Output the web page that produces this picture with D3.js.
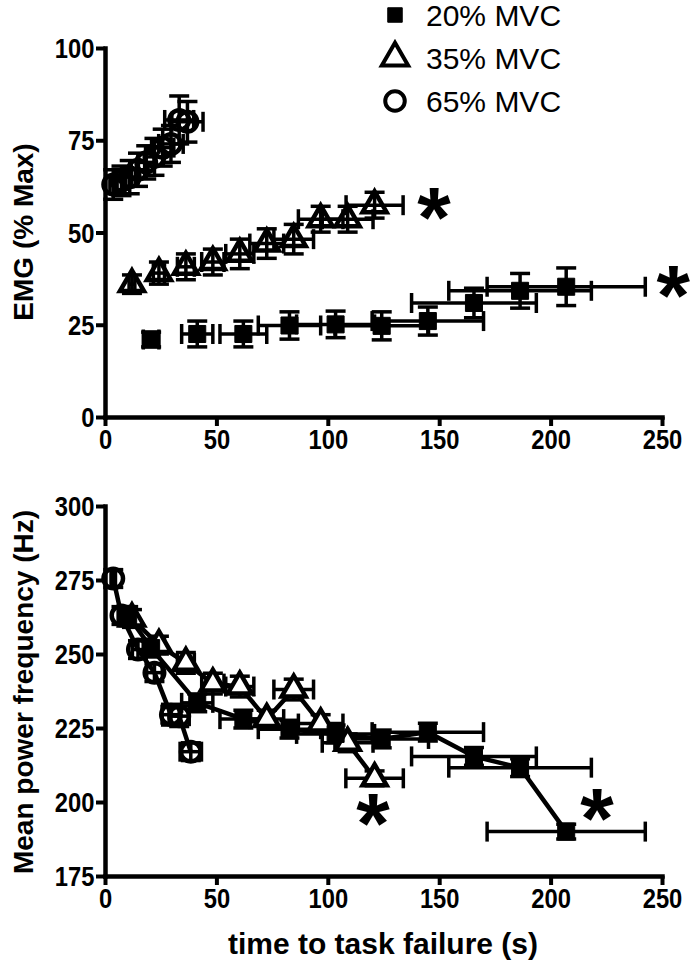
<!DOCTYPE html>
<html>
<head>
<meta charset="utf-8">
<script src="https://cdn.jsdelivr.net/npm/d3@7"></script>
<style>
  body { margin: 0; background: #fff; }
  text { font-family: "Liberation Sans", Arial, sans-serif; }
</style>
</head>
<body>
<div id="chart"></div>
<script>
// ---- data ----
var xTicks = [0, 50, 100, 150, 200, 250];
var emgTicks = [0, 25, 50, 75, 100];
var mpfTicks = [175, 200, 225, 250, 275, 300];
var seriesNames = ["20% MVC", "35% MVC", "65% MVC"];

// top panel: EMG (% Max)
var time20 = [20.7, 41.4, 62.1, 82.8, 103.5, 124.2, 144.9, 165.6, 186.3, 207];
var time20Err = [3.5, 7, 10.5, 14, 17.5, 21, 25, 28, 32, 35.5];
var emg20 = [21, 22.5, 22.5, 24.8, 25.1, 24.7, 26, 30.9, 34.2, 35.3];
var emg20Err = [2, 3.5, 3.5, 3.7, 3.6, 3.8, 3.8, 4, 4.7, 5.1];

var time35 = [12.1, 24.2, 36.3, 48.4, 60.5, 72.6, 84.7, 96.8, 108.9, 121];
var time35Err = [1.3, 2.5, 3.8, 5, 6.3, 7.6, 8.9, 10, 11.4, 12.8];
var emg35 = [36, 39, 40.7, 42, 44.2, 47, 48.2, 53.6, 53.6, 57.4];
var emg35Err = [2.5, 3, 3.5, 3.5, 4, 4, 4, 3.5, 3.5, 3.5];

var time65 = [3.7, 7.4, 11.1, 14.8, 18.5, 22.2, 25.9, 29.6, 33.3, 37];
var time65Err = [1.5, 2, 2.5, 3, 3.5, 4, 5, 5.5, 6.5, 7];
var emg65 = [63, 64, 65, 67, 69, 70.5, 73, 74, 80.5, 80];
var emg65Err = [4, 4, 4.5, 4.5, 4.5, 5, 5, 5, 6.5, 5.5];

// bottom panel: mean power frequency (Hz)
var time20b = [10.4, 20.7, 41.4, 62.1, 82.8, 103.5, 124.2, 144.9, 165.6, 186.3, 207];
var time20bErr = [2, 3.5, 7, 10.5, 14, 17.5, 21, 25, 28, 32, 35.5];
var mpf20 = [263, 252, 233.5, 228, 224.6, 223, 221.3, 223.6, 215.4, 211.6, 190];
var mpf20Err = [3, 3, 3, 3, 3, 3, 3, 3, 3, 3, 2.5];

var mpf35 = [262, 253, 247, 240, 239, 228, 238, 226.5, 220, 208];
var mpf35Err = [3, 3, 3.5, 3.5, 3.5, 3, 3.5, 3, 3, 2.5];
var time35bErr = [1.3, 2.5, 3.8, 5, 6.3, 7.6, 8.9, 10, 11.4, 12.9];

var time65b = [3.7, 7.4, 14.8, 22.2, 29.6, 33.3, 38.5];
var time65bErr = [1, 1.5, 2.5, 3.5, 4, 4.5, 4.8];
var mpf65 = [275.5, 263, 251.5, 243.7, 229.5, 229, 217];
var mpf65Err = [3, 3, 3, 3, 3.5, 3.5, 3];

// asterisks (time, value)
var starsTop = [[147.7, 56.9], [255, 35.8]];
var starsBot = [[120.3, 196.3], [220.8, 198]];

// ---- drawing ----
var width = 690, height = 964;
var svg = d3.select("#chart").append("svg")
    .attr("width", width)
    .attr("height", height);

var x = d3.scaleLinear().domain([0, 250]).range([105, 662]);
var yTop = d3.scaleLinear().domain([0, 100]).range([417, 48]);
var yBot = d3.scaleLinear().domain([175, 300]).range([876, 506]);

function zip(t, te, v, ve) {
  return t.map(function(d, i) { return {t: d, te: te[i], v: v[i], ve: ve[i]}; });
}

var top20 = zip(time20, time20Err, emg20, emg20Err);
var top35 = zip(time35, time35Err, emg35, emg35Err);
var top65 = zip(time65, time65Err, emg65, emg65Err);
var bot20 = zip(time20b, time20bErr, mpf20, mpf20Err);
var bot35 = zip(time35, time35bErr, mpf35, mpf35Err);
var bot65 = zip(time65b, time65bErr, mpf65, mpf65Err);

var symSquare = d3.symbol().type(d3.symbolSquare).size(290);
var symTri = d3.symbol().type(d3.symbolTriangle).size(250);
var symCirc = d3.symbol().type(d3.symbolCircle).size(300);

function drawAxes(y, ticks) {
  var xa = svg.append("g")
    .attr("transform", "translate(0," + y.range()[0] + ")")
    .call(d3.axisBottom(x).tickValues(xTicks).tickSize(9).tickSizeOuter(0).tickPadding(4));
  var ya = svg.append("g")
    .attr("transform", "translate(" + x.range()[0] + ",0)")
    .call(d3.axisLeft(y).tickValues(ticks).tickSize(9).tickSizeOuter(0).tickPadding(3));
  [xa, ya].forEach(function(a) {
    a.select(".domain").attr("stroke-width", 4.5).attr("stroke-linecap", "square");
    a.selectAll(".tick line").attr("stroke-width", 4);
    a.selectAll(".tick text")
      .attr("fill", "#000")
      .attr("transform", "scale(0.88,1)")
      .style("font-size", "27px")
      .style("font-weight", "bold");
  });
  ya.selectAll(".tick text").attr("dy", "0.36em");
}

function errorBars(g, data, y) {
  var cap = 10;
  data.forEach(function(d) {
    var cx = x(d.t), cy = y(d.v);
    var y1 = y(d.v - d.ve), y2 = y(d.v + d.ve);
    var x1 = x(d.t - d.te), x2 = x(d.t + d.te);
    var segs = [
      [cx, y1, cx, y2], [cx - cap, y1, cx + cap, y1], [cx - cap, y2, cx + cap, y2],
      [x1, cy, x2, cy], [x1, cy - cap, x1, cy + cap], [x2, cy - cap, x2, cy + cap]
    ];
    g.selectAll(null).data(segs).enter().append("line")
      .attr("x1", function(s) { return s[0]; })
      .attr("y1", function(s) { return s[1]; })
      .attr("x2", function(s) { return s[2]; })
      .attr("y2", function(s) { return s[3]; })
      .attr("stroke", "#000")
      .attr("stroke-width", 3.5);
  });
}

function markers(g, data, y, sym, fill) {
  g.selectAll(null).data(data).enter().append("path")
    .attr("d", sym)
    .attr("transform", function(d) { return "translate(" + x(d.t) + "," + y(d.v) + ")"; })
    .attr("fill", fill)
    .attr("stroke", "#000")
    .attr("stroke-width", fill == "#000" ? 1 : 4.5);
}

function star(t, v, y) {
  var fs = 86;
  svg.append("text")
    .attr("x", x(t))
    .attr("y", y(v) + 0.47 * fs)
    .attr("text-anchor", "middle")
    .style("font-size", fs + "px")
    .style("font-weight", "bold")
    .text("*");
}

// top panel
drawAxes(yTop, emgTicks);
var gt = svg.append("g");
markers(gt, top65, yTop, symCirc, "none");
markers(gt, top35, yTop, symTri, "#fff");
markers(gt, top20, yTop, symSquare, "#000");
errorBars(gt, top20, yTop);
errorBars(gt, top35, yTop);
errorBars(gt, top65, yTop);
starsTop.forEach(function(s) { star(s[0], s[1], yTop); });

// bottom panel
drawAxes(yBot, mpfTicks);
var gb = svg.append("g");
var line = d3.line().x(function(d) { return x(d.t); }).y(function(d) { return yBot(d.v); });
[bot65, bot35, bot20].forEach(function(s) {
  gb.append("path").datum(s)
    .attr("d", line)
    .attr("fill", "none")
    .attr("stroke", "#000")
    .attr("stroke-width", 4.5);
});
errorBars(gb, bot65, yBot);
errorBars(gb, bot35, yBot);
errorBars(gb, bot20, yBot);
markers(gb, bot65, yBot, symCirc, "none");
markers(gb, bot35, yBot, symTri, "#fff");
markers(gb, bot20, yBot, symSquare, "#000");
starsBot.forEach(function(s) { star(s[0], s[1], yBot); });

// axis titles
svg.append("text")
  .attr("transform", "translate(33,232) rotate(-90)")
  .attr("text-anchor", "middle")
  .style("font-size", "28px").style("font-weight", "bold")
  .text("EMG (% Max)");
svg.append("text")
  .attr("transform", "translate(33,692) rotate(-90)")
  .attr("text-anchor", "middle")
  .style("font-size", "28px").style("font-weight", "bold")
  .text("Mean power frequency (Hz)");
svg.append("text")
  .attr("x", 383).attr("y", 954)
  .attr("text-anchor", "middle")
  .style("font-size", "30px").style("font-weight", "bold")
  .text("time to task failure (s)");

// legend
var legSyms = [
  {sym: d3.symbol().type(d3.symbolSquare).size(210), fill: "#000"},
  {sym: d3.symbol().type(d3.symbolTriangle).size(300), fill: "#fff"},
  {sym: d3.symbol().type(d3.symbolCircle).size(300), fill: "#fff"}
];
var legY = [15, 58, 101];
seriesNames.forEach(function(name, i) {
  svg.append("path")
    .attr("d", legSyms[i].sym)
    .attr("transform", "translate(395," + legY[i] + ")")
    .attr("fill", legSyms[i].fill)
    .attr("stroke", "#000")
    .attr("stroke-width", legSyms[i].fill == "#000" ? 1 : 4);
  svg.append("text")
    .attr("x", 426).attr("y", legY[i] + 11)
    .style("font-size", "30px")
    .text(name);
});
</script>
</body>
</html>
